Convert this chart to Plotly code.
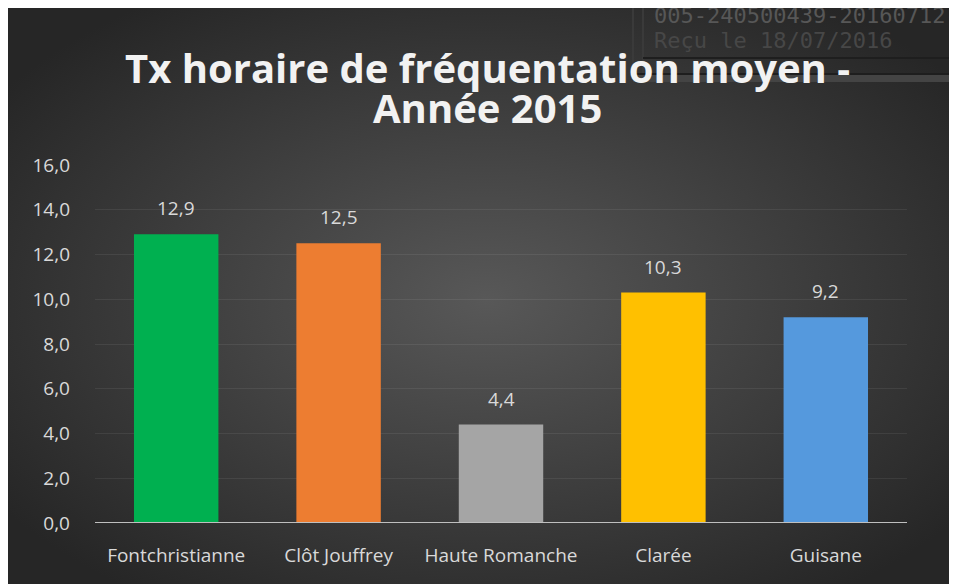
import base64
import plotly.graph_objects as go

categories = ["Fontchristianne", "Clôt Jouffrey", "Haute Romanche", "Clarée", "Guisane"]
values = [12.9, 12.5, 4.4, 10.3, 9.2]
bar_colors = ["#00b050", "#ed7d31", "#a5a5a5", "#ffc000", "#5599dd"]
y_ticks = [0, 2, 4, 6, 8, 10, 12, 14, 16]
title_line1 = "Tx horaire de fréquentation moyen -"
title_line2 = "Année 2015"
stamp_line1 = "005-240500439-20160712-"
stamp_line2 = "Reçu le 18/07/2016"

W, H = 957, 584
OFF = 8  # page body margin offset of the figure in the screenshot
L, R, T, B = 87, 58, 157, 69
PW, PH = W - L - R, H - T - B


def px(x):
    # screenshot x -> paper x
    return (x - OFF - L) / PW


def py(y):
    # screenshot y -> paper y
    return (H - B - (y - OFF)) / PH


svg = f'''<svg xmlns="http://www.w3.org/2000/svg" width="{W}" height="{H}">
<defs><radialGradient id="g" cx="50%" cy="50%" r="62%">
<stop offset="0%" stop-color="#585858"/><stop offset="100%" stop-color="#262626"/>
</radialGradient></defs>
<rect x="0" y="0" width="{W}" height="{H}" fill="url(#g)"/></svg>'''
bg_src = "data:image/svg+xml;base64," + base64.b64encode(svg.encode()).decode()

fig = go.Figure()
fig.add_trace(go.Bar(
    x=categories, y=values, marker=dict(color=bar_colors, line=dict(width=0)),
    width=0.52, hoverinfo="skip",
))

annotations = []
for c, v in zip(categories, values):
    annotations.append(dict(
        x=c, y=v, xref="x", yref="y", text=f"{v:.1f}".replace(".", ","),
        showarrow=False, yanchor="bottom", yshift=11,
        font=dict(family="Open Sans", size=19, color="#d9d9d9"),
    ))

# title
annotations.append(dict(
    x=px(487), y=py(67), xref="paper", yref="paper", text=title_line1,
    showarrow=False, xanchor="center", yanchor="middle",
    font=dict(family="Open Sans", size=40, color="#f2f2f2", weight="bold"),
))
annotations.append(dict(
    x=px(487), y=py(108), xref="paper", yref="paper", text=title_line2,
    showarrow=False, xanchor="center", yanchor="middle",
    font=dict(family="Open Sans", size=40, color="#f2f2f2", weight="bold"),
))
# stamp
annotations.append(dict(
    x=px(652), y=py(15), xref="paper", yref="paper", text=stamp_line1,
    showarrow=False, xanchor="left", yanchor="middle",
    font=dict(family="DejaVu Sans Mono", size=22, color="#575757"),
))
annotations.append(dict(
    x=px(652), y=py(40), xref="paper", yref="paper", text=stamp_line2,
    showarrow=False, xanchor="left", yanchor="middle",
    font=dict(family="DejaVu Sans Mono", size=22, color="#474747"),
))

shapes = [
    # stamp lines
    dict(type="line", xref="paper", yref="paper", x0=px(633), x1=px(633), y0=py(75), y1=py(OFF),
         line=dict(color="#3a3a3a", width=2), layer="above"),
    dict(type="line", xref="paper", yref="paper", x0=px(643), x1=px(643), y0=py(75), y1=py(OFF),
         line=dict(color="#3a3a3a", width=2), layer="above"),
    dict(type="line", xref="paper", yref="paper", x0=px(643), x1=px(W + OFF), y0=py(58), y1=py(58),
         line=dict(color="#1e1e1e", width=2), layer="above"),
    dict(type="line", xref="paper", yref="paper", x0=px(633), x1=px(W + OFF), y0=py(74), y1=py(74),
         line=dict(color="#1e1e1e", width=2), layer="above"),
    dict(type="rect", xref="paper", yref="paper", x0=px(633), x1=px(W + OFF), y0=py(82), y1=py(75),
         fillcolor="#444444", line=dict(width=0), layer="above"),
    # axis baseline
    dict(type="line", xref="paper", yref="y", x0=0, x1=1, y0=0, y1=0,
         line=dict(color="#bfbfbf", width=2), layer="above"),
]

fig.update_layout(
    width=W, height=H,
    margin=dict(l=L, r=R, t=T, b=B),
    paper_bgcolor="#2e2e2e", plot_bgcolor="rgba(0,0,0,0)",
    images=[dict(source=bg_src, xref="paper", yref="paper", x=-L / PW, y=1 + T / PH,
                 sizex=W / PW, sizey=H / PH, xanchor="left", yanchor="top",
                 sizing="stretch", layer="below")],
    showlegend=False,
    bargap=0.5,
    annotations=annotations,
    shapes=shapes,
    separators=", ",
)
fig.update_xaxes(
    showgrid=False, zeroline=False, showline=False, ticks="",
    tickfont=dict(family="Open Sans", size=19, color="#d9d9d9"),
    ticklabelstandoff=19,
)
fig.update_yaxes(
    range=[0, 16], tickvals=y_ticks, tickformat=".1f",
    showgrid=True, gridcolor="rgba(255,255,255,0.07)", gridwidth=1, zeroline=False, showline=False,
    tickfont=dict(family="Open Sans", size=19, color="#d9d9d9"),
    ticks="", ticklabelstandoff=24,
)

fig.write_html("out.html")
